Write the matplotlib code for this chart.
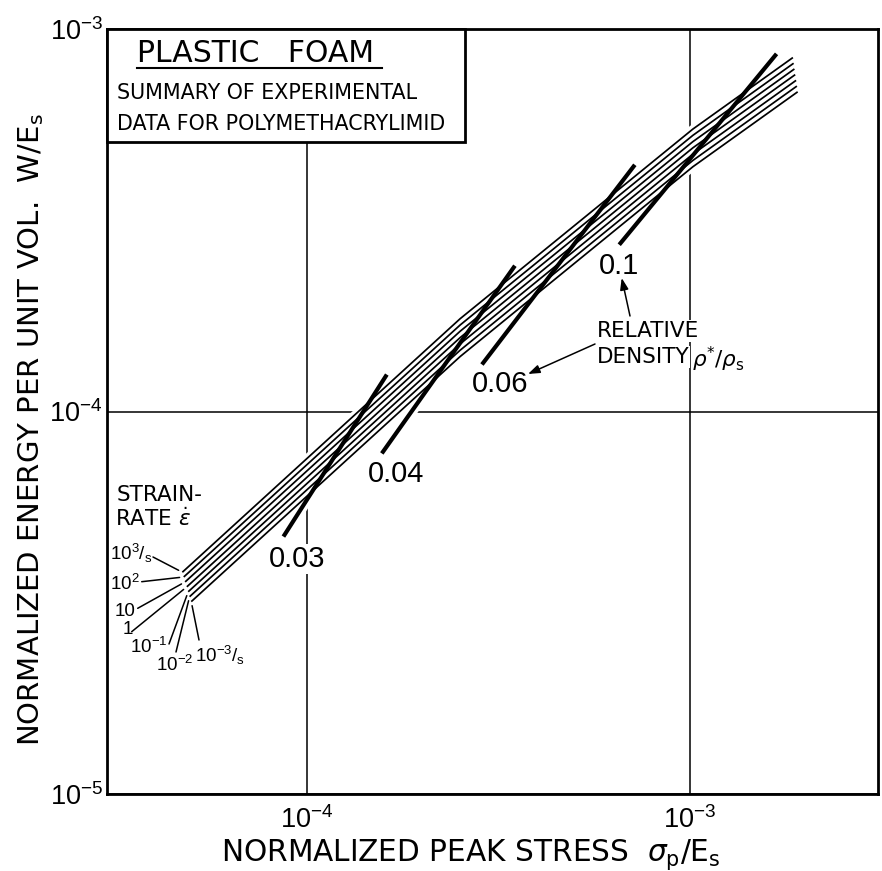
import matplotlib
matplotlib.use("Agg")
import matplotlib.pyplot as plt
from matplotlib.patches import Rectangle
from matplotlib.lines import Line2D

# ---------------- data ----------------
# strain-rate lines: normalized peak stress (x) vs normalized energy (y)
rate_labels = [r"$\mathdefault{10^{3}/_{s}}$", r"$\mathdefault{10^{2}}$", "10", "1",
               r"$\mathdefault{10^{-1}}$", r"$\mathdefault{10^{-2}}$", r"$\mathdefault{10^{-3}/_{s}}$"]

rate_1e3_x = [4.72e-5, 2.51e-4, 1.018e-3, 1.858e-3]
rate_1e3_y = [3.80e-5, 1.748e-4, 5.475e-4, 8.42e-4]
rate_1e2_x = [4.76e-5, 2.51e-4, 1.018e-3, 1.866e-3]
rate_1e2_y = [3.693e-5, 1.683e-4, 5.272e-4, 8.136e-4]
rate_1e1_x = [4.80e-5, 2.51e-4, 1.018e-3, 1.875e-3]
rate_1e1_y = [3.585e-5, 1.621e-4, 5.076e-4, 7.862e-4]
rate_1e0_x = [4.85e-5, 2.51e-4, 1.018e-3, 1.884e-3]
rate_1e0_y = [3.481e-5, 1.560e-4, 4.890e-4, 7.598e-4]
rate_1em1_x = [4.89e-5, 2.51e-4, 1.018e-3, 1.894e-3]
rate_1em1_y = [3.379e-5, 1.502e-4, 4.708e-4, 7.340e-4]
rate_1em2_x = [4.93e-5, 2.51e-4, 1.018e-3, 1.903e-3]
rate_1em2_y = [3.280e-5, 1.446e-4, 4.533e-4, 7.091e-4]
rate_1em3_x = [4.98e-5, 2.51e-4, 1.018e-3, 1.912e-3]
rate_1em3_y = [3.184e-5, 1.392e-4, 4.364e-4, 6.851e-4]

# relative-density lines
density_labels = ["0.03", "0.04", "0.06", "0.1"]
dens_003_x = [8.67e-5, 1.615e-4]
dens_003_y = [4.71e-5, 1.249e-4]
dens_004_x = [1.567e-4, 3.49e-4]
dens_004_y = [7.77e-5, 2.405e-4]
dens_006_x = [2.862e-4, 7.18e-4]
dens_006_y = [1.327e-4, 4.415e-4]
dens_010_x = [6.536e-4, 1.684e-3]
dens_010_y = [2.729e-4, 8.61e-4]

x_ticks = [1e-4, 1e-3]
y_ticks = [1e-5, 1e-4, 1e-3]

# ---------------- figure ----------------
W, H = 882, 871
fig = plt.figure(figsize=(W / 100, H / 100), dpi=100)
fig.patch.set_facecolor("white")
ax = fig.add_axes([107 / W, 77 / H, 771 / W, 765 / H])


def P(px, py):
    """pixel position in the figure -> figure fraction"""
    return (px / W, 1 - py / H)


NUMF = ["Liberation Sans", "DejaVu Sans"]
plt.rcParams["mathtext.fontset"] = "dejavusans"

ax.set_xscale("log")
ax.set_yscale("log")
ax.set_xlim(3.0e-5, 3.1e-3)
ax.set_ylim(1e-5, 1e-3)
ax.set_xticks(x_ticks)
ax.set_yticks(y_ticks)
ax.minorticks_off()
ax.tick_params(which="both", length=0)
ax.tick_params(axis="x", labelsize=19.5, pad=9, labelfontfamily=NUMF)
ax.tick_params(axis="y", labelsize=19.5, pad=3, labelfontfamily=NUMF)
for s in ax.spines.values():
    s.set_linewidth(2.0)
ax.set_axisbelow(True)
ax.grid(True, which="major", color="black", lw=1.1)

rate_series = [
    (rate_1e3_x, rate_1e3_y), (rate_1e2_x, rate_1e2_y), (rate_1e1_x, rate_1e1_y),
    (rate_1e0_x, rate_1e0_y), (rate_1em1_x, rate_1em1_y), (rate_1em2_x, rate_1em2_y),
    (rate_1em3_x, rate_1em3_y),
]
dens_series = [(dens_003_x, dens_003_y), (dens_004_x, dens_004_y),
               (dens_006_x, dens_006_y), (dens_010_x, dens_010_y)]

# white halos (break the grid lines), then black lines
for xs, ys in rate_series:
    ax.plot(xs, ys, color="white", lw=6.0, zorder=2, solid_capstyle="butt")
for xs, ys in dens_series:
    ax.plot(xs, ys, color="white", lw=8.0, zorder=2, solid_capstyle="butt")
for xs, ys in rate_series:
    ax.plot(xs, ys, color="black", lw=1.25, zorder=3, solid_capstyle="butt")
for xs, ys in dens_series:
    ax.plot(xs, ys, color="black", lw=3.0, zorder=3, solid_capstyle="butt")

# title box
ax.add_patch(Rectangle((0, (794 - 142) / 765), (465 - 107) / 771, (142 - 29) / 765,
                       transform=ax.transAxes, facecolor="white", edgecolor="black",
                       lw=2.0, zorder=4, clip_on=False))
fig.text(*P(137, 54), "PLASTIC   FOAM", fontsize=21.5, ha="left", va="center", zorder=6)
fig.add_artist(Line2D([137 / W, 382 / W], [1 - 68 / H, 1 - 68 / H],
                      transform=fig.transFigure, color="black", lw=1.5, zorder=6))
fig.text(*P(117, 93), "SUMMARY OF EXPERIMENTAL", fontsize=14.9, ha="left", va="center", zorder=6)
fig.text(*P(117, 124), "DATA FOR POLYMETHACRYLIMID", fontsize=14.9, ha="left", va="center", zorder=6)

# axis labels
ax.set_xlabel(r"NORMALIZED PEAK STRESS  $\sigma_{\mathrm{p}}/\mathrm{E}_{\mathrm{s}}$", fontsize=21.3)
ax.xaxis.set_label_coords((471 - 107) / 771, (794 - 855) / 765)
ax.xaxis.label.set_va("center")
ax.set_ylabel(r"NORMALIZED ENERGY PER UNIT VOL.  $\mathrm{W}/\mathrm{E}_{\mathrm{s}}$", fontsize=21)
ax.yaxis.set_label_coords((31 - 107) / 771, (794 - 430) / 765)
ax.yaxis.label.set_va("center")

# density labels
wb = dict(facecolor="white", edgecolor="none", pad=0.5)
dens_label_pos = [(297.5, 559), (396.5, 474), (500, 384), (618.5, 266)]
for lab, (px, py) in zip(density_labels, dens_label_pos):
    fig.text(*P(px, py), lab, fontsize=21, family=NUMF, ha="center", va="center", bbox=wb)

fig.text(*P(597, 331), "RELATIVE", fontsize=15.5, ha="left", va="center", bbox=wb)
fig.text(*P(597, 357), "DENSITY", fontsize=15.5, ha="left", va="center", bbox=wb)
fig.text(*P(692, 359), r"$\rho^{*}/\rho_{\mathrm{s}}$", fontsize=15.5, ha="left", va="center", bbox=wb)

arrow_kw = dict(arrowstyle="-|>,head_length=0.7,head_width=0.25", color="black", lw=1.1,
                shrinkA=0, shrinkB=0)
a1 = plt.Annotation("", xy=P(621.7, 278), xycoords="figure fraction",
                    xytext=P(630, 316), textcoords="figure fraction", arrowprops=arrow_kw)
a2 = plt.Annotation("", xy=P(528, 374), xycoords="figure fraction",
                    xytext=P(595, 344), textcoords="figure fraction", arrowprops=arrow_kw)
for a in (a1, a2):
    a.set_zorder(10)
    fig.add_artist(a)

# strain-rate key
fig.text(*P(117, 495), "STRAIN-", fontsize=15.5, ha="left", va="center")
fig.text(*P(115, 519), r"RATE $\dot{\epsilon}$", fontsize=15.5, ha="left", va="center")

rate_text_pos = [(110, 553, "left"), (110, 584, "left"), (115, 611, "left"), (127.5, 629, "center"),
                 (130, 647, "left"), (156, 665, "left"), (195, 655, "left")]
rate_leader_from = [(153, 557), (141.7, 581.7), (137.7, 608.3), (131.7, 631.7),
                    (169, 644), (176, 652), (199, 640)]
for lab, (tx, ty, ha), (lx, ly), (xs, ys) in zip(rate_labels, rate_text_pos,
                                                  rate_leader_from, rate_series):
    fig.text(*P(tx, ty), lab, fontsize=13.5, family=NUMF, ha=ha, va="center")
    ax.annotate("", xy=(xs[0], ys[0]), xycoords="data",
                xytext=P(lx, ly), textcoords="figure fraction",
                arrowprops=dict(arrowstyle="-", color="black", lw=1.1,
                                shrinkA=0, shrinkB=3), annotation_clip=False)

fig.savefig("out.png", dpi=100, facecolor="white")
